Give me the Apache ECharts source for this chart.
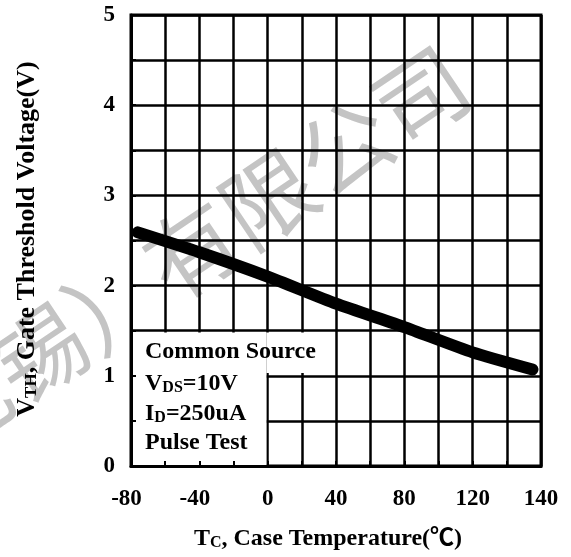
<!DOCTYPE html>
<html>
<head>
<meta charset="utf-8">
<script src="https://cdn.jsdelivr.net/npm/echarts@6/dist/echarts.min.js"></script>
<style>
html,body{margin:0;padding:0;background:#fff;}
#c{width:571px;height:557px;}
</style>
</head>
<body>
<div id="c"></div>
<script>
// ---- data ----
const tempC = [-76, -40, 0, 40, 80, 120, 155];
const vth   = [2.59, 2.37, 2.10, 1.80, 1.54, 1.26, 1.07];
const xLabelValues = [-80, -40, 0, 40, 80, 120, 160];
const xLabelTexts  = ['-80', '-40', '0', '40', '80', '120', '140'];
const yLabelValues = [0, 1, 2, 3, 4, 5];
const yLabelTexts  = ['0', '1', '2', '3', '4', '5'];
const noteLines = ['Common Source', 'V|DS|=10V', 'I|D|=250uA', 'Pulse Test'];
const watermark = '无锡）有限公司';

const X_MIN = -80, X_MAX = 160, X_STEP = 20;
const Y_MIN = 0, Y_MAX = 5, Y_STEP = 0.5;

const SERIF = '"Liberation Serif", "Times New Roman", serif';
const chart = echarts.init(document.getElementById('c'));

function xFmt(v) {
  const i = xLabelValues.indexOf(v);
  if (i < 0) return '';
  const t = xLabelTexts[i];
  return t.startsWith('-') ? '{n|' + t + '}' : '{p|' + t + '}';
}
function yFmt(v) {
  const i = yLabelValues.indexOf(v);
  return i < 0 ? '' : yLabelTexts[i];
}

const labelStyle = { fontFamily: SERIF, fontWeight: 'bold', fontSize: 23, color: '#000' };

function richLine(s) {
  const parts = s.split('|');
  if (parts.length === 1) return '{a|' + s + '}';
  return '{a|' + parts[0] + '}{b|' + parts[1] + '}{a|' + parts[2] + '}';
}
const noteRich = {
  a: { fontFamily: SERIF, fontWeight: 'bold', fontSize: 24, fill: '#000', lineHeight: 25, verticalAlign: 'bottom' },
  b: { fontFamily: SERIF, fontWeight: 'bold', fontSize: 16, fill: '#000', lineHeight: 23, verticalAlign: 'bottom' }
};
const noteY = [351, 383, 413, 442];

const graphics = [];
graphics.push({
  type: 'text', z: -10, x: 192, y: 250, rotation: 34 * Math.PI / 180,
  style: { text: watermark, font: '92px "Noto Sans CJK SC"', fill: '#c4c4c4', align: 'center', verticalAlign: 'middle' }
});
noteLines.forEach((s, i) => {
  graphics.push({
    type: 'text', z: 20, x: 145, y: noteY[i],
    style: { text: richLine(s), rich: noteRich, align: 'left', verticalAlign: 'middle' }
  });
});
graphics.push({
  type: 'text', z: 20, x: 27, y: 239, rotation: Math.PI / 2,
  style: {
    text: '{a|V}{b|TH}{a|, Gate Threshold Voltage(V)}',
    rich: {
      a: { fontFamily: SERIF, fontWeight: 'bold', fontSize: 26, fill: '#000', lineHeight: 27, verticalAlign: 'bottom' },
      b: { fontFamily: SERIF, fontWeight: 'bold', fontSize: 17, fill: '#000', lineHeight: 25, verticalAlign: 'bottom' }
    },
    align: 'center', verticalAlign: 'middle'
  }
});
graphics.push({
  type: 'text', z: 20, x: 328, y: 538,
  style: {
    text: '{a|T}{b|C}{a|, Case Temperature(℃)}',
    rich: {
      a: { fontFamily: SERIF + ', "Noto Sans CJK SC"', fontWeight: 'bold', fontSize: 24, fill: '#000', lineHeight: 25, verticalAlign: 'bottom' },
      b: { fontFamily: SERIF, fontWeight: 'bold', fontSize: 16, fill: '#000', lineHeight: 23, verticalAlign: 'bottom' }
    },
    align: 'center', verticalAlign: 'middle'
  }
});

const option = {
  backgroundColor: '#fff',
  animation: false,
  grid: { left: 131, right: 30, top: 15, bottom: 91, show: true, borderColor: '#000', borderWidth: 3, backgroundColor: 'transparent' },
  xAxis: [
    { type: 'value', min: X_MIN, max: X_MAX, interval: X_STEP, z: 0,
      axisLine: { show: false }, axisTick: { show: false }, axisLabel: { show: false },
      splitLine: { show: true, lineStyle: { color: '#000', width: 2.5 } } },
    { type: 'value', min: X_MIN, max: X_MAX, interval: X_STEP, position: 'bottom', z: 10,
      axisLine: { show: true, onZero: false, lineStyle: { color: '#000', width: 3 } },
      axisTick: { show: true, inside: true, length: 5, lineStyle: { color: '#000', width: 2 } },
      splitLine: { show: false },
      axisLabel: { show: true, margin: 22, formatter: xFmt, showMinLabel: true, showMaxLabel: true,
        rich: { n: Object.assign({ padding: [0, 9, 0, 0] }, labelStyle), p: Object.assign({}, labelStyle) } } }
  ],
  yAxis: [
    { type: 'value', min: Y_MIN, max: Y_MAX, interval: Y_STEP, z: 0,
      axisLine: { show: false }, axisTick: { show: false }, axisLabel: { show: false },
      splitLine: { show: true, lineStyle: { color: '#000', width: 2.5 } } },
    { type: 'value', min: Y_MIN, max: Y_MAX, interval: Y_STEP, position: 'left', z: 10,
      axisLine: { show: true, onZero: false, lineStyle: { color: '#000', width: 3 } },
      axisTick: { show: true, inside: true, length: 5, lineStyle: { color: '#000', width: 2 } },
      splitLine: { show: false },
      axisLabel: Object.assign({ show: true, margin: 16, formatter: yFmt, showMinLabel: true, showMaxLabel: true }, labelStyle) }
  ],
  series: [{
    type: 'line', xAxisIndex: 0, yAxisIndex: 0, z: 5,
    data: tempC.map((t, i) => [t, vth[i]]),
    showSymbol: false, symbol: 'none', smooth: 0.2,
    lineStyle: { color: '#000', width: 12, cap: 'round', join: 'round' },
    markArea: {
      silent: true,
      itemStyle: { color: '#fff', opacity: 1 },
      data: [
        [{ xAxis: -80, yAxis: 0 }, { xAxis: -0.7, yAxis: 1.48 }],
        [{ xAxis: -0.7, yAxis: 1.03 }, { xAxis: 27, yAxis: 1.48 }]
      ]
    }
  }],
  graphic: graphics
};
chart.setOption(option);
</script>
</body>
</html>
